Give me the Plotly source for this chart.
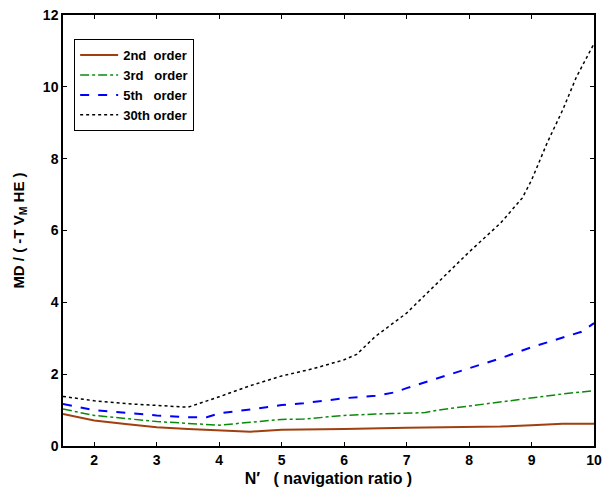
import plotly.graph_objects as go

x_2nd = [1.5, 2, 2.5, 3, 3.5, 4, 4.5, 5, 5.35, 6, 7, 8, 8.5, 9, 9.5, 10]
y_2nd = [0.89, 0.71, 0.61, 0.52, 0.47, 0.43, 0.40, 0.45, 0.45, 0.47, 0.51, 0.52, 0.54, 0.58, 0.62, 0.62]

x_3rd = [1.5, 2, 3, 3.5, 4, 4.5, 5, 5.35, 6, 6.5, 7, 7.3, 7.5, 8, 8.5, 9, 9.5, 10]
y_3rd = [1.03, 0.85, 0.68, 0.63, 0.58, 0.66, 0.74, 0.75, 0.85, 0.89, 0.91, 0.93, 1.00, 1.11, 1.23, 1.35, 1.45, 1.54]

x_5th = [1.5, 2, 3, 3.5, 3.8, 4, 4.5, 5, 5.35, 6, 6.5, 6.8, 7, 7.5, 8, 8.5, 9, 9.5, 9.8, 10]
y_5th = [1.17, 1.00, 0.85, 0.80, 0.80, 0.91, 1.02, 1.14, 1.19, 1.33, 1.40, 1.49, 1.61, 1.89, 2.16, 2.44, 2.75, 3.03, 3.18, 3.42]

x_30th = [1.5, 2, 2.5, 3, 3.5, 4, 4.5, 5, 5.5, 6, 6.2, 6.5, 7, 7.5, 8, 8.5, 8.85, 9, 9.25, 9.5, 9.72, 10]
y_30th = [1.38, 1.26, 1.18, 1.12, 1.08, 1.37, 1.68, 1.95, 2.15, 2.40, 2.55, 3.05, 3.70, 4.55, 5.40, 6.20, 6.90, 7.40, 8.44, 9.36, 10.28, 11.20]

x_ticks = [2, 3, 4, 5, 6, 7, 8, 9, 10]
y_ticks = [0, 2, 4, 6, 8, 10, 12]

names = ["2nd\u00a0\u00a0order", "3rd\u00a0\u00a0\u00a0order", "5th\u00a0\u00a0\u00a0order", "30th\u00a0order"]

fig = go.Figure()
fig.add_trace(go.Scatter(x=x_2nd, y=y_2nd, mode="lines", name=f"<b>{names[0]}</b>",
                         line=dict(color="#A0400F", width=2, dash="solid")))
fig.add_trace(go.Scatter(x=x_3rd, y=y_3rd, mode="lines", name=f"<b>{names[1]}</b>",
                         line=dict(color="#0A8A0A", width=1.5, dash="dashdot")))
fig.add_trace(go.Scatter(x=x_5th, y=y_5th, mode="lines", name=f"<b>{names[2]}</b>",
                         line=dict(color="#0000FF", width=2, dash="dash")))
fig.add_trace(go.Scatter(x=x_30th, y=y_30th, mode="lines", name=f"<b>{names[3]}</b>",
                         line=dict(color="#000000", width=1.5, dash="dot")))

font = dict(family="Liberation Sans, Arial, sans-serif", size=13, color="black")

fig.update_layout(
    width=603, height=488,
    margin=dict(l=63, r=9, t=15, b=42, autoexpand=False),
    paper_bgcolor="white", plot_bgcolor="white",
    font=font,
    showlegend=True,
    legend=dict(x=0.021, y=0.944, xanchor="left", yanchor="top",
                bordercolor="black", borderwidth=1, bgcolor="white",
                font=dict(family="Liberation Sans, Arial, sans-serif", size=13, color="black"),
                tracegroupgap=0, itemwidth=38),
)
fig.update_xaxes(range=[1.5, 10], tickvals=x_ticks, ticktext=[f"<b>{v}</b>" for v in x_ticks],
                 automargin=False, ticklabeloverflow="allow",
                 ticks="inside", ticklen=4, tickwidth=1, tickcolor="black", showline=True,
                 linecolor="black", linewidth=1.5, mirror="ticks", showgrid=False, zeroline=False,
                 tickfont=dict(size=14),
                 title=dict(text="<b>N′\u00a0\u00a0 ( navigation ratio )</b>", standoff=6,
                            font=dict(size=16)))
fig.update_yaxes(range=[0, 12], tickvals=y_ticks, ticktext=[f"<b>{v}</b>" for v in y_ticks],
                 automargin=False, ticklabeloverflow="allow",
                 ticks="inside", ticklen=4, tickwidth=1, tickcolor="black", showline=True,
                 linecolor="black", linewidth=1.5, mirror="ticks", showgrid=False, zeroline=False,
                 tickfont=dict(size=14),
                 title=dict(text="<b>MD / ( -T V<sub>M</sub> HE )</b>", standoff=15,
                            font=dict(size=15)))

# remove the default page-body margin so the figure sits at the window's origin
fig.write_html("out.html", config={"displayModeBar": False},
               post_script="document.body.style.margin='0';")
